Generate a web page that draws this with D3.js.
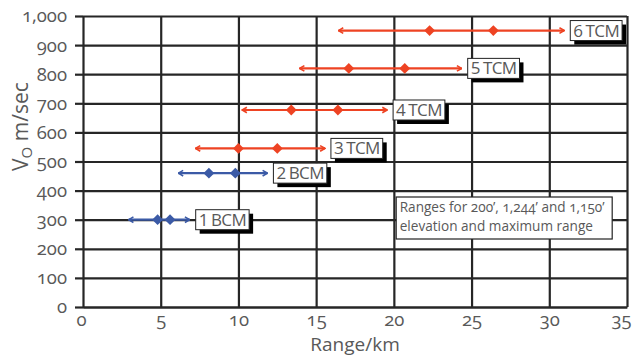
<!DOCTYPE html>
<html>
<head>
<meta charset="utf-8">
<script src="https://cdn.jsdelivr.net/npm/d3@7"></script>
<style>
  html, body { margin: 0; padding: 0; background: #fff; }
  svg { display: block; font-family: "Open Sans", "Noto Sans", sans-serif; font-variant-numeric: oldstyle-nums; }
  .tag { font-variant-numeric: lining-nums; }
</style>
</head>
<body>
<div id="chart"></div>
<script>
// Charge labels and their muzzle velocity (m/s)
const charges = ['1 BCM', '2 BCM', '3 TCM', '4 TCM', '5 TCM', '6 TCM'];
const velocities = [300, 460, 545, 677, 820, 950];
// Range (km) at 200' elevation, 1,244', 1,150', and maximum range
const rangeMin = [3.0, 6.2, 7.3, 10.3, 14.0, 16.5];
const rangeA = [4.8, 8.1, 10.0, 13.4, 17.1, 22.3];
const rangeB = [5.6, 9.8, 12.5, 16.4, 20.7, 26.4];
const rangeMax = [6.8, 11.8, 15.5, 19.5, 24.3, 30.9];
const chargeType = ['BCM', 'BCM', 'TCM', 'TCM', 'TCM', 'TCM'];

const xTicks = [0, 5, 10, 15, 20, 25, 30, 35];
const yTicks = [0, 100, 200, 300, 400, 500, 600, 700, 800, 900, 1000];
const noteLines = ['Ranges for 200\u2019, 1,244\u2019 and 1,150\u2019', 'elevation and maximum range'];

const width = 632;
const height = 356;
const margin = { top: 16, right: 5, bottom: 49, left: 83 };
const innerW = width - margin.left - margin.right;
const innerH = height - margin.top - margin.bottom;

const colors = { BCM: '#3b5aa6', TCM: '#ee4323' };
const gridColor = '#262626';
const textColor = '#595959';

const x = d3.scaleLinear().domain([0, 35]).range([0, innerW]);
const y = d3.scaleLinear().domain([0, 1000]).range([innerH, 0]);

const svg = d3.select('#chart').append('svg')
  .attr('width', width)
  .attr('height', height);

// arrow markers per colour
const defs = svg.append('defs');
Object.entries(colors).forEach(([key, c]) => {
  defs.append('marker')
    .attr('id', `arrow-${key}`)
    .attr('viewBox', '0 0 10 10')
    .attr('refX', 9).attr('refY', 5)
    .attr('markerWidth', 8).attr('markerHeight', 8)
    .attr('markerUnits', 'userSpaceOnUse')
    .attr('orient', 'auto-start-reverse')
    .append('path')
    .attr('d', 'M3,1.5 L9,5 L3,8.5')
    .attr('fill', 'none')
    .attr('stroke', c)
    .attr('stroke-width', 2);
});

const g = svg.append('g').attr('transform', `translate(${margin.left},${margin.top})`);

/* Grid */
g.append('g')
  .call(d3.axisLeft(y).tickValues(yTicks).tickSize(-innerW).tickFormat(''))
  .call(s => s.select('.domain').remove())
  .selectAll('line')
  .attr('stroke', gridColor).attr('stroke-width', 2.2);

g.append('g')
  .call(d3.axisBottom(x).tickValues(xTicks).tickSize(innerH).tickFormat(''))
  .call(s => s.select('.domain').remove())
  .selectAll('line')
  .attr('stroke', gridColor).attr('stroke-width', 2.2);

/* Y axis */
const yAxis = g.append('g')
  .call(d3.axisLeft(y).tickValues(yTicks).tickSize(8).tickPadding(8).tickFormat(d3.format(',')));
yAxis.select('.domain').remove();
yAxis.selectAll('line').attr('stroke', gridColor).attr('stroke-width', 2.2);
yAxis.selectAll('text').attr('fill', textColor).attr('font-size', 18.5).attr('font-family', '"Open Sans", sans-serif');

/* X axis */
const xAxis = g.append('g')
  .attr('transform', `translate(0,${innerH})`)
  .call(d3.axisBottom(x).tickValues(xTicks).tickSize(0).tickPadding(6));
xAxis.select('.domain').attr('stroke', gridColor).attr('stroke-width', 2.2);
xAxis.selectAll('text')
  .attr('fill', textColor)
  .attr('font-size', 18.5)
  .attr('font-family', '"Open Sans", sans-serif')
  .attr('dx', d => (d === 35 ? -6 : d === 0 ? -2 : 0));

/* Axis titles */
svg.append('text')
  .attr('x', margin.left + x(17.5))
  .attr('y', 351)
  .attr('text-anchor', 'middle')
  .attr('fill', textColor)
  .attr('font-size', 19)
  .text('Range/km');

const yTitle = svg.append('text')
  .attr('transform', `translate(28,${margin.top + y(620)}) rotate(-90)`)
  .attr('text-anchor', 'middle')
  .attr('fill', textColor)
  .attr('font-size', 21);
yTitle.append('tspan').text('V');
yTitle.append('tspan').attr('font-size', 15).attr('dy', 4).text('O');
yTitle.append('tspan').attr('dy', -4).text(' m/sec');

/* Range bars */
const rows = charges.map((name, i) => ({
  name, v: velocities[i], type: chargeType[i],
  min: rangeMin[i], a: rangeA[i], b: rangeB[i], max: rangeMax[i],
}));

const bars = g.selectAll('g.bar').data(rows).join('g').attr('class', 'bar');

bars.append('line')
  .attr('x1', d => x(d.min) - 1)
  .attr('x2', d => x(d.max) + 1)
  .attr('y1', d => y(d.v))
  .attr('y2', d => y(d.v))
  .attr('stroke', d => colors[d.type])
  .attr('stroke-width', 2.2)
  .attr('marker-start', d => `url(#arrow-${d.type})`)
  .attr('marker-end', d => `url(#arrow-${d.type})`);

const diamond = d3.symbol().type(d3.symbolDiamond2).size(75);
bars.each(function (d) {
  d3.select(this).selectAll('path.pt')
    .data([d.a, d.b])
    .join('path')
    .attr('class', 'pt')
    .attr('transform', r => `translate(${x(r)},${y(d.v)})`)
    .attr('d', diamond)
    .attr('fill', colors[d.type]);
});

/* Labels with drop-shadow boxes */
bars.each(function (d) {
  const lg = d3.select(this).append('g')
    .attr('class', 'tag')
    .attr('transform', `translate(${x(d.max) + 7},${y(d.v)})`);
  const [num, word] = d.name.split(' ');
  const shadow = lg.append('rect');
  const box = lg.append('rect');
  const t = lg.append('text')
    .attr('x', 3)
    .attr('y', 6)
    .attr('fill', textColor)
    .attr('font-size', 17);
  t.append('tspan').text(num);
  t.append('tspan').attr('dx', 2.5).attr('letter-spacing', -0.6).text(word);
  const w = t.node().getBBox().width + 6;
  shadow.attr('x', 4).attr('y', -6).attr('width', w).attr('height', 20).attr('fill', '#000');
  box.attr('x', 0).attr('y', -10).attr('width', w).attr('height', 20)
    .attr('fill', '#fff').attr('stroke', '#222').attr('stroke-width', 1);
});

/* Note box */
const note = g.append('g').attr('transform', `translate(${x(20.15)},${y(378)})`);
note.append('rect')
  .attr('width', 216).attr('height', 42)
  .attr('fill', '#fff').attr('stroke', '#222').attr('stroke-width', 1.2);
note.selectAll('text')
  .data(noteLines)
  .join('text')
  .attr('x', 3.5)
  .attr('y', (_, i) => 15 + i * 19)
  .attr('fill', textColor)
  .attr('font-size', 13.6)
  .text(d => d);
</script>
</body>
</html>
